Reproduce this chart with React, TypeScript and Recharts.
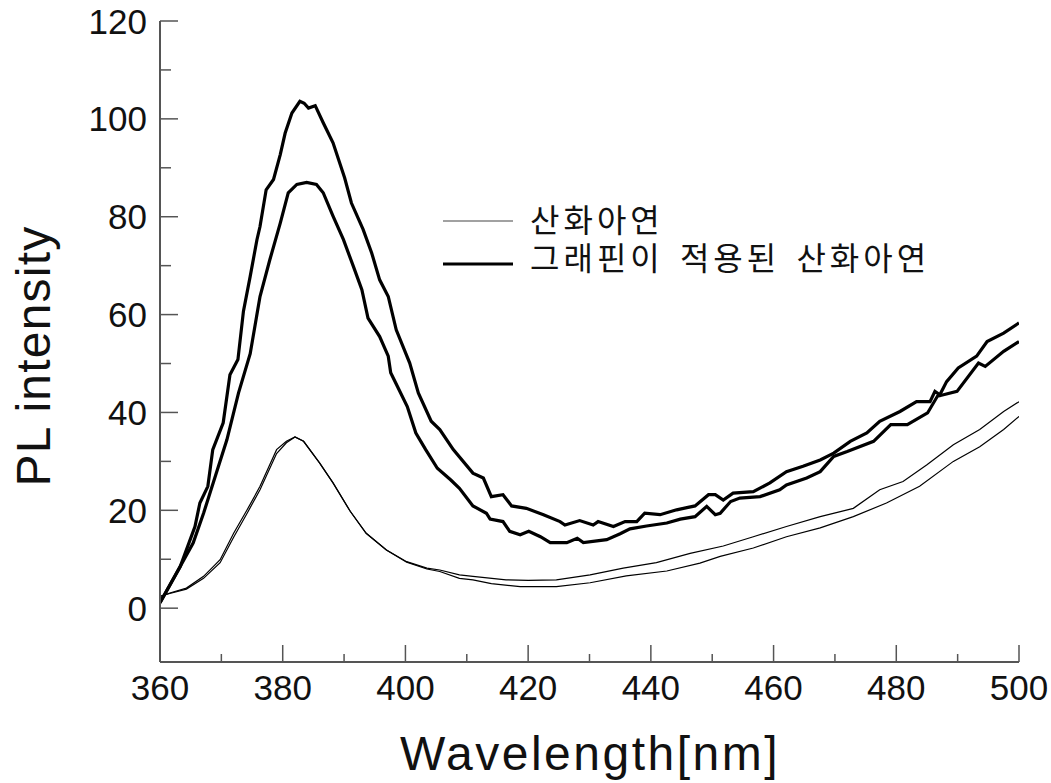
import { LineChart, Line, XAxis, YAxis, Legend } from 'recharts';

// wavelength (nm) / PL intensity pairs
const znoAWl = [360, 361.6, 364.3, 367.1, 369.8, 372, 374.2, 376.3, 379, 380.6, 382, 383.4, 386, 388.2, 391, 393.6, 396.9, 400.2, 403.5, 405.6, 408.8, 411, 416.4, 420, 424.6, 430.1, 435.5, 440.9, 446.4, 451.8, 456.7, 462.1, 467.6, 473, 477.3, 481.1, 485, 489.3, 493.6, 497.5, 500];
const znoAPl = [2.4, 3.1, 4.1, 6.5, 9.9, 15.3, 20.1, 24.9, 32.4, 34.1, 35, 34.1, 29.7, 25.6, 19.8, 15.3, 11.9, 9.5, 8.2, 7.8, 6.8, 6.5, 5.8, 5.7, 5.8, 6.8, 8.2, 9.3, 11.2, 12.7, 14.6, 16.7, 18.7, 20.4, 24.2, 25.9, 29.3, 33.4, 36.5, 40.2, 42.2];

const znoBWl = [360, 361.6, 364.3, 367.1, 369.8, 372, 374.2, 376.3, 379, 380.6, 382, 383.4, 386, 388.2, 391, 393.6, 396.9, 400.2, 403.5, 405.6, 408.8, 411, 414, 418.7, 424.6, 430.1, 436, 442.6, 448, 451.3, 456.7, 462.1, 467.6, 473, 478.4, 483.8, 489.3, 493.6, 497.5, 500];
const znoBPl = [2.4, 3, 3.9, 6.1, 9.3, 14.5, 19.4, 24.2, 31.6, 33.8, 35, 34.1, 29.7, 25.6, 19.8, 15.3, 11.9, 9.4, 8, 7.5, 6.1, 5.8, 5, 4.4, 4.4, 5.2, 6.6, 7.6, 9.2, 10.6, 12.3, 14.6, 16.4, 18.7, 21.5, 24.9, 30, 33, 36.5, 39.2];

const grAWl = [360, 363.3, 365.7, 366.5, 367.8, 368.6, 370.3, 371.4, 372.7, 373.6, 374.7, 375.8, 376.3, 377.3, 378.5, 379.6, 380.4, 381.5, 382.8, 383.5, 384.2, 385.3, 386.6, 388.2, 390.1, 391.2, 393.1, 394.5, 395.8, 397.2, 398.5, 400.7, 402.1, 404.2, 405.6, 407.8, 411, 412.7, 414, 415.9, 417.3, 419.7, 422.5, 425.2, 426, 428.4, 430.6, 431.4, 433.9, 435.8, 437.7, 439, 441.5, 444.2, 447.2, 449.4, 450.5, 451.8, 453.4, 456.7, 459.4, 462.1, 464.8, 467.6, 469.8, 472.5, 475.2, 477.3, 480.6, 483.3, 485.5, 486.3, 487.1, 488.2, 490.1, 493.1, 494.8, 497.5, 500];
const grAPl = [1.1, 8.5, 16.7, 21.5, 24.9, 32.4, 37.9, 47.7, 50.8, 60.7, 67.8, 75.3, 78, 85.5, 87.6, 92.7, 97.1, 101.2, 103.6, 103.2, 102.2, 102.7, 99.2, 95.1, 87.9, 82.8, 77.4, 72.6, 67.1, 63.7, 56.9, 50.1, 44, 38.2, 36.5, 32.4, 27.6, 26.6, 22.8, 23.2, 20.9, 20.4, 19.1, 17.7, 17, 17.9, 17, 17.7, 16.7, 17.7, 17.7, 19.4, 19.1, 20.1, 20.9, 23.2, 23.2, 22.1, 23.5, 23.8, 25.6, 27.9, 29, 30.3, 31.7, 34.1, 35.8, 38.2, 40.2, 42.2, 42.2, 44.3, 43.6, 46.3, 49.1, 51.5, 54.5, 56.2, 58.3];

const grBWl = [360, 362.7, 365.4, 367.1, 369, 370.9, 372.8, 374.7, 376.3, 377.9, 379.6, 380.9, 382.3, 383.9, 385.5, 386.6, 388.2, 389.9, 391.5, 392.9, 393.9, 395.8, 397.2, 397.6, 398.7, 400.3, 401.7, 403.3, 405.2, 407.4, 408.8, 411, 413.2, 413.8, 415.9, 417, 418.7, 420.1, 422, 423.6, 426.3, 428, 429, 432.8, 435, 436.6, 439.3, 442.6, 444.8, 447.2, 449.1, 450.5, 451.3, 453, 454.5, 457.8, 461, 462.1, 465.4, 467.6, 469.8, 472, 476.3, 479.1, 481.8, 485.1, 486.7, 489.9, 493.4, 494.5, 497.5, 500];
const grBPl = [1.1, 7.2, 13.3, 19.4, 26.9, 34.4, 44, 52, 63.7, 71.2, 78.7, 84.9, 86.6, 87, 86.6, 84.9, 80.1, 75.3, 69.9, 65.1, 59.3, 55.5, 51.5, 48.1, 45.3, 41.2, 35.8, 32.4, 28.6, 26.2, 24.5, 20.9, 19.4, 18.2, 17.7, 15.7, 15, 15.7, 14.6, 13.4, 13.4, 14.3, 13.4, 14, 15.2, 16.2, 16.8, 17.4, 18.2, 18.7, 20.8, 19.1, 19.4, 21.8, 22.5, 22.8, 24.2, 25.2, 26.6, 27.9, 31, 32, 34.1, 37.5, 37.5, 39.9, 43.3, 44.3, 50.1, 49.4, 52.5, 54.5];

const xTicks = [360, 370, 380, 390, 400, 410, 420, 430, 440, 450, 460, 470, 480, 490, 500];
const yTicks = [0, 10, 20, 30, 40, 50, 60, 70, 80, 90, 100, 110, 120];
const legendNames = ['산화아연', '그래핀이 적용된 산화아연'];

const toPoints = (wl: number[], pl: number[]) => wl.map((x, i) => ({ x, y: pl[i] }));

const FRAME = '#555';
const FONT = '"Liberation Sans", Arial, sans-serif';

const BottomTick = (props: any) => {
  const { x, y, payload } = props;
  const major = payload.value % 20 === 0;
  return (
    <g>
      <line x1={x} y1={y} x2={x} y2={y - (major ? 17 : 8)} stroke={FRAME} strokeWidth={1.5} />
      {major && (
        <text x={x} y={y + 38} textAnchor="middle" fontFamily={FONT} fontSize={35} fill="#111">
          {payload.value}
        </text>
      )}
    </g>
  );
};

const TopTick = (props: any) => {
  const { x, y, payload } = props;
  const major = payload.value % 20 === 0;
  return <line x1={x} y1={y} x2={x} y2={y + (major ? 17 : 8)} stroke={FRAME} strokeWidth={1.5} />;
};

const LeftTick = (props: any) => {
  const { x, y, payload } = props;
  const major = payload.value % 20 === 0;
  return (
    <g>
      <line x1={x} y1={y} x2={x + (major ? 18 : 11)} y2={y} stroke={FRAME} strokeWidth={1.5} />
      {major && (
        <text x={x - 13} y={y + 12.5} textAnchor="end" fontFamily={FONT} fontSize={35} fill="#111">
          {payload.value}
        </text>
      )}
    </g>
  );
};

const RightTick = (props: any) => {
  const { x, y, payload } = props;
  const major = payload.value % 20 === 0;
  return <line x1={x} y1={y} x2={x - (major ? 18 : 11)} y2={y} stroke={FRAME} strokeWidth={1.5} />;
};

const renderLegend = () => (
  <div style={{ fontFamily: '"Noto Sans CJK KR"', fontSize: 32, color: '#111', letterSpacing: 4, wordSpacing: 5 }}>
    {legendNames.map((name, i) => (
      <div key={name} style={{ display: 'flex', alignItems: 'center', height: 43 }}>
        <svg width={70} height={43}>
          <line x1={0} y1={22} x2={70} y2={22} stroke={i === 0 ? '#444' : '#000'} strokeWidth={i === 0 ? 1.2 : 3.2} />
        </svg>
        <span
          style={{
            display: 'block',
            marginLeft: 17,
            height: 34,
            lineHeight: '34px',
            whiteSpace: 'pre',
            position: 'relative',
            top: i === 0 ? -3 : -8,
          }}
        >
          {name}
        </span>
      </div>
    ))}
  </div>
);

export default function App() {
  return (
    <div style={{ position: 'absolute', top: 0, left: 0 }}>
      <LineChart width={1051} height={783} margin={{ top: 21, right: 32, bottom: 61, left: 100 }}>
        <XAxis
          type="number"
          dataKey="x"
          domain={[360, 500]}
          ticks={xTicks}
          interval={0}
          height={60}
          tickSize={0}
          tickMargin={0}
          tickLine={false}
          axisLine={{ stroke: FRAME, strokeWidth: 2 }}
          tick={<BottomTick />}
          allowDataOverflow
          label={() => (
            <text x={590} y={770} textAnchor="middle" fontFamily={FONT} fontSize={48} letterSpacing={2.5} fill="#111">
              Wavelength[nm]
            </text>
          )}
        />
        <XAxis
          xAxisId="top"
          orientation="top"
          type="number"
          dataKey="x"
          domain={[360, 500]}
          ticks={xTicks}
          interval={0}
          height={0}
          tickSize={0}
          tickMargin={0}
          tickLine={false}
          axisLine={{ stroke: FRAME, strokeWidth: 2 }}
          tick={<TopTick />}
          allowDataOverflow
        />
        <YAxis
          type="number"
          domain={[-11, 120]}
          ticks={yTicks}
          interval={0}
          width={60}
          tickSize={0}
          tickMargin={0}
          tickLine={false}
          axisLine={{ stroke: FRAME, strokeWidth: 2 }}
          tick={<LeftTick />}
          allowDataOverflow
          label={() => (
            <text x={50} y={356} transform="rotate(-90 50 356)" textAnchor="middle" fontFamily={FONT} fontSize={48} letterSpacing={1.2} fill="#111">
              PL intensity
            </text>
          )}
        />
        <YAxis
          yAxisId="right"
          orientation="right"
          type="number"
          domain={[-11, 120]}
          ticks={yTicks}
          interval={0}
          width={0}
          tickSize={0}
          tickMargin={0}
          tickLine={false}
          axisLine={{ stroke: FRAME, strokeWidth: 2 }}
          tick={<RightTick />}
          allowDataOverflow
        />
        <Legend
          content={renderLegend}
          layout="horizontal"
          verticalAlign="middle"
          align="center"
          wrapperStyle={{ top: 199, left: 443, width: 600 }}
        />
        <Line data={toPoints(znoAWl, znoAPl)} dataKey="y" type="linear" stroke="#000" strokeWidth={1.2} dot={false} isAnimationActive={false} />
        <Line data={toPoints(znoBWl, znoBPl)} dataKey="y" type="linear" stroke="#000" strokeWidth={1.2} dot={false} isAnimationActive={false} />
        <Line data={toPoints(grAWl, grAPl)} dataKey="y" type="linear" stroke="#000" strokeWidth={3.2} dot={false} isAnimationActive={false} />
        <Line data={toPoints(grBWl, grBPl)} dataKey="y" type="linear" stroke="#000" strokeWidth={3.2} dot={false} isAnimationActive={false} />
      </LineChart>
    </div>
  );
}
